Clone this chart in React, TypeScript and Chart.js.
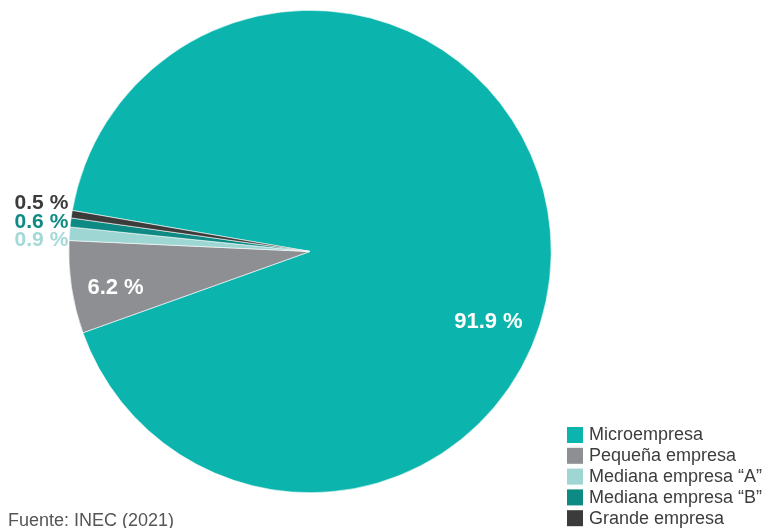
import React, { useEffect, useRef } from "react";
import { Chart, registerables } from "chart.js";

Chart.register(...registerables);

const categories = [
  "Microempresa",
  "Pequeña empresa",
  "Mediana empresa “A”",
  "Mediana empresa “B”",
  "Grande empresa",
];
const values = [91.9, 6.2, 0.9, 0.6, 0.5];
const valueLabels = ["91.9 %", "6.2 %", "0.9 %", "0.6 %", "0.5 %"];
const colors = ["#0bb5ad", "#8e8f93", "#9dd6d3", "#0c8a83", "#3b3b3b"];
const outsideLabelColors = ["#ffffff", "#ffffff", "#a3d9d6", "#0d8b84", "#3b3b3b"];
const sourceText = "Fuente: INEC (2021)";

const FONT = "'Liberation Sans', Arial, Helvetica, sans-serif";

const labelPlugin = {
  id: "customLabels",
  afterDatasetsDraw(chart: any) {
    const ctx = chart.ctx;
    const meta = chart.getDatasetMeta(0);
    const first = meta.data[0];
    const cx = first.x;
    const cy = first.y;
    const R = first.outerRadius;
    ctx.save();
    // inside labels
    const inside = [
      { i: 0, angleDeg: 21.5, rf: 0.795 },
      { i: 1, angleDeg: 169.5, rf: 0.82 },
    ];
    ctx.font = `bold 22px ${FONT}`;
    ctx.textAlign = "center";
    ctx.textBaseline = "middle";
    ctx.fillStyle = "#ffffff";
    inside.forEach(({ i, angleDeg, rf }) => {
      const a = (angleDeg * Math.PI) / 180;
      ctx.fillText(valueLabels[i], cx + Math.cos(a) * R * rf, cy + Math.sin(a) * R * rf);
    });
    // outside labels stacked on the left
    ctx.font = `bold 21px ${FONT}`;
    ctx.textAlign = "right";
    const offsets = [0, 0, -11, -29.5, -48.5];
    [4, 3, 2].forEach((i) => {
      ctx.fillStyle = outsideLabelColors[i];
      ctx.fillText(valueLabels[i], cx - R - 0.5, cy + offsets[i]);
    });

    // legend
    const lx = 567;
    const ly = 427;
    const step = 20.8;
    ctx.textAlign = "left";
    ctx.textBaseline = "middle";
    ctx.font = `18px ${FONT}`;
    categories.forEach((c, i) => {
      ctx.fillStyle = colors[i];
      ctx.fillRect(lx, ly + i * step, 16, 16);
      ctx.fillStyle = "#3d3d3d";
      ctx.fillText(c, lx + 22, ly + i * step + 8.5);
    });

    // source
    ctx.fillStyle = "#555555";
    ctx.font = `18px ${FONT}`;
    ctx.textBaseline = "alphabetic";
    ctx.fillText(sourceText, 8, 526);
    ctx.restore();
  },
};

export default function App() {
  const ref = useRef<HTMLCanvasElement | null>(null);
  useEffect(() => {
    document.body.style.margin = "0";
    const canvas = ref.current;
    if (!canvas) return;
    const chart = new Chart(canvas, {
      type: "pie",
      data: {
        labels: categories,
        datasets: [
          {
            data: values,
            backgroundColor: colors,
            borderColor: "#ffffff",
            borderWidth: 0.6,
          },
        ],
      },
      options: {
        responsive: false,
        animation: false,
        rotation: 279.8,
        layout: { padding: { left: 68.5, right: 221.5, top: 10, bottom: 35 } },
        plugins: {
          legend: { display: false },
          tooltip: { enabled: false },
        },
      },
      plugins: [labelPlugin],
    });
    return () => chart.destroy();
  }, []);
  return (
    <div style={{ width: 773, height: 528, position: "relative", background: "#ffffff" }}>
      <canvas ref={ref} width={773} height={528} style={{ display: "block" }} />
    </div>
  );
}
